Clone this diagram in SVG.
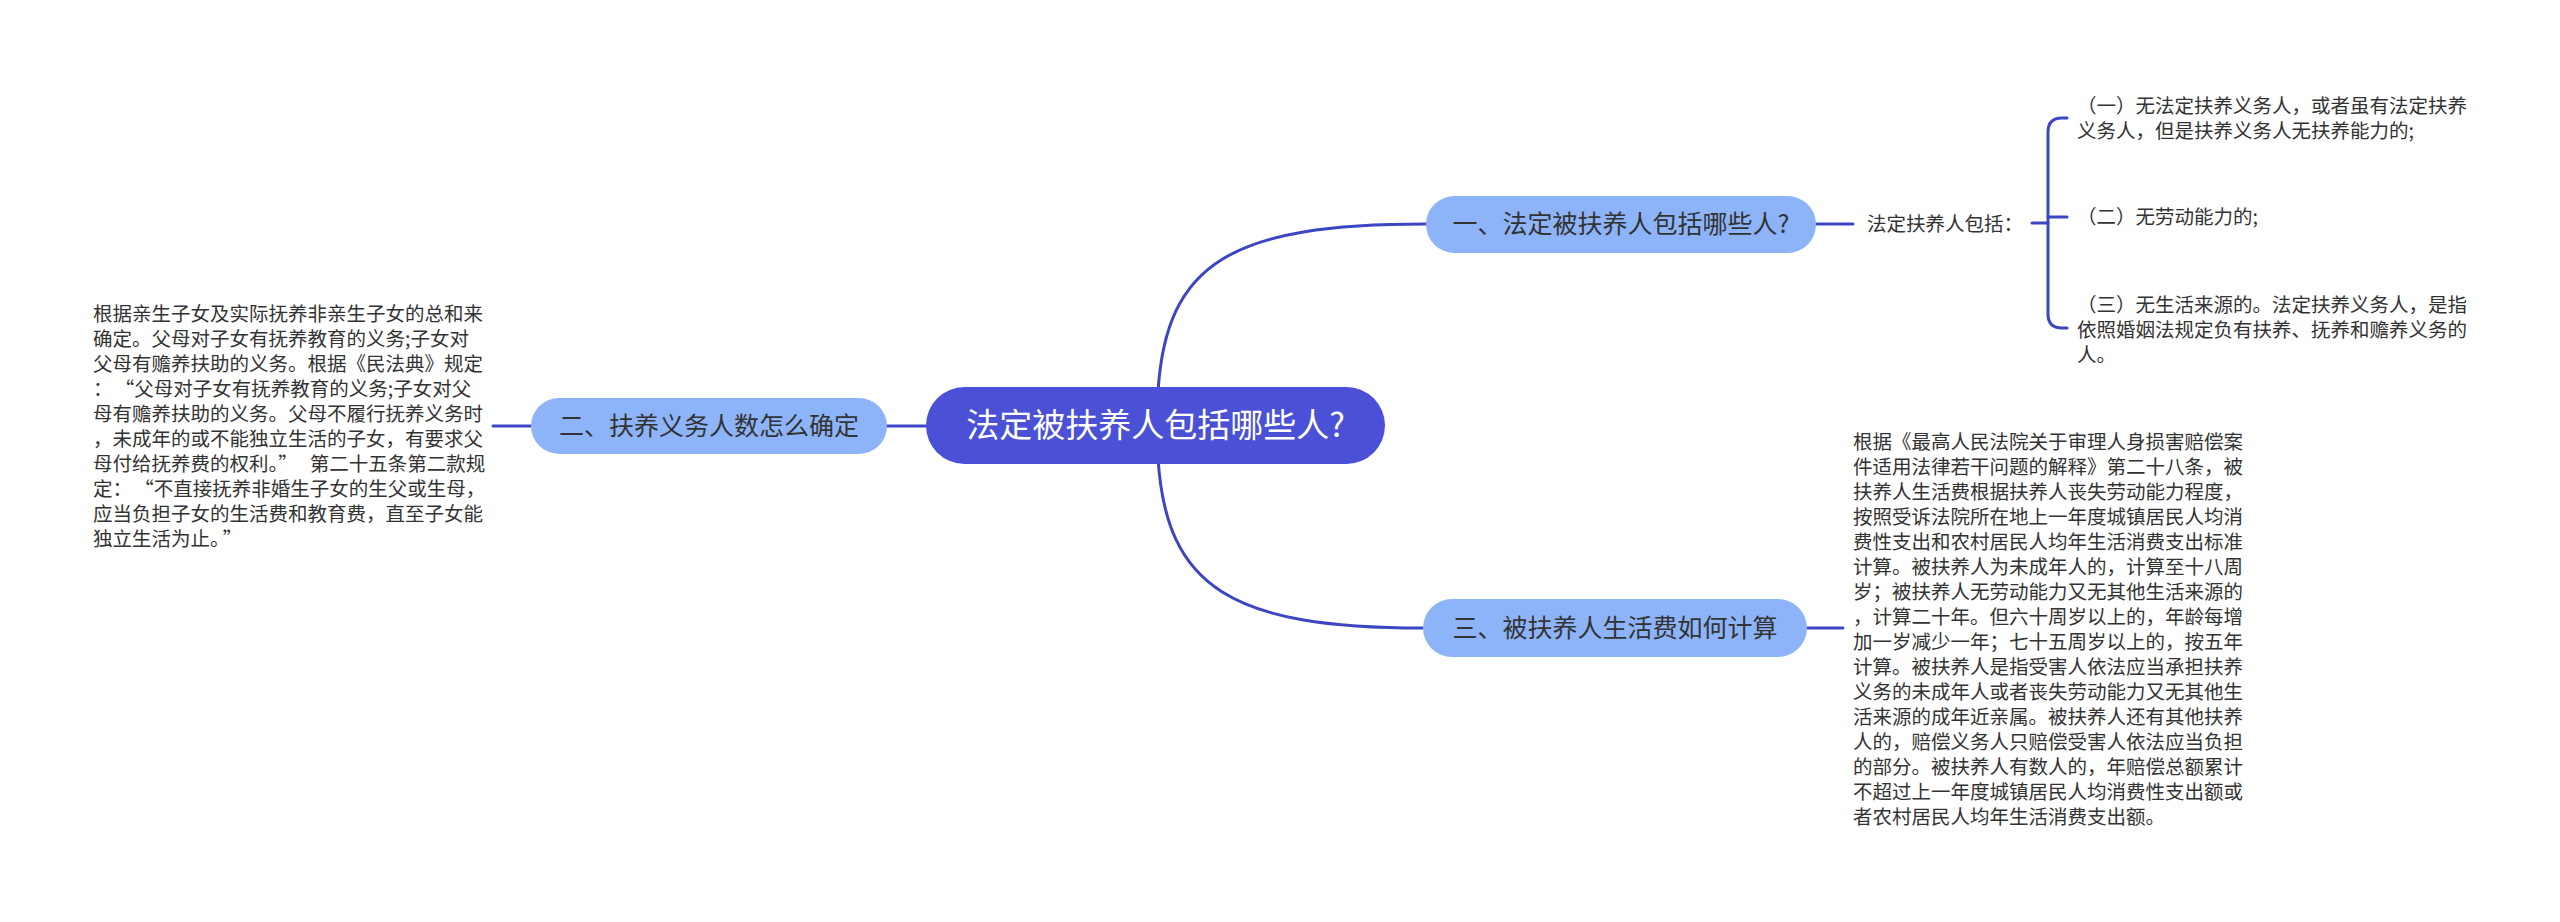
<svg xmlns="http://www.w3.org/2000/svg" width="2560" height="922" viewBox="0 0 2560 922">
<style>
.conn{fill:none;stroke:#3d46c2;stroke-width:3;stroke-linecap:round}
.t{font-family:"Noto Sans CJK SC","Noto Sans",sans-serif;fill:#333333}
.body{font-size:19.5px}
.sub{font-size:25px;text-anchor:middle}
.root{font-size:33px;text-anchor:middle;fill:#ffffff}
.lnode{fill:#8db4f8}
</style>
<rect width="2560" height="922" fill="#ffffff"/>
<g id="connectors">
<path class="conn" d="M1158,392 C1166,262 1232,224 1426,224"/>
<path class="conn" d="M1158,458 C1166,588 1232,628 1423,628"/>
<path class="conn" d="M926,426 L887,426"/>
<path class="conn" d="M531,426 L493,426"/>
<path class="conn" d="M1816,224 L1853,224"/>
<path class="conn" d="M2032,223 L2048,223"/>
<path class="conn" d="M2067,118 L2062,118 Q2048,118 2048,132 L2048,314 Q2048,328 2062,328 L2067,328"/>
<path class="conn" d="M2048,217 L2067,217"/>
<path class="conn" d="M1807,628 L1843,628"/>
</g>
<g id="root">
<rect x="926" y="387" width="459" height="77" rx="38.5" fill="#4a51d6"/>
<text class="t root" x="1155.5" y="437">法定被扶养人包括哪些人?</text>
</g>
<g id="node1">
<rect class="lnode" x="1426" y="196" width="390" height="57" rx="28.5"/>
<text class="t sub" x="1621" y="233">一、法定被扶养人包括哪些人?</text>
</g>
<g id="node2">
<rect class="lnode" x="531" y="398" width="356" height="56" rx="28"/>
<text class="t sub" x="709" y="435">二、扶养义务人数怎么确定</text>
</g>
<g id="node3">
<rect class="lnode" x="1423" y="599" width="384" height="58" rx="29"/>
<text class="t sub" x="1615" y="637">三、被扶养人生活费如何计算</text>
</g>
<g id="node1-label">
<text class="t body" x="1867" y="231">法定扶养人包括：</text>
</g>
<g id="item1">
<text class="t body" x="2077" y="113">（一）无法定扶养义务人，或者虽有法定扶养</text>
<text class="t body" x="2077" y="138">义务人，但是扶养义务人无扶养能力的;</text>
</g>
<g id="item2">
<text class="t body" x="2077" y="224">（二）无劳动能力的;</text>
</g>
<g id="item3">
<text class="t body" x="2077" y="312">（三）无生活来源的。法定扶养义务人，是指</text>
<text class="t body" x="2077" y="337">依照婚姻法规定负有扶养、抚养和赡养义务的</text>
<text class="t body" x="2077" y="362">人。</text>
</g>
<g id="node2-detail">
<text class="t body" x="93" y="321">根据亲生子女及实际抚养非亲生子女的总和来</text>
<text class="t body" x="93" y="346">确定。父母对子女有抚养教育的义务;子女对</text>
<text class="t body" x="93" y="371">父母有赡养扶助的义务。根据《民法典》规定</text>
<text class="t body" x="93" y="396">：<tspan dx="12">“</tspan>父母对子女有抚养教育的义务;子女对父</text>
<text class="t body" x="93" y="421">母有赡养扶助的义务。父母不履行抚养义务时</text>
<text class="t body" x="93" y="446">，未成年的或不能独立生活的子女，有要求父</text>
<text class="t body" x="93" y="471">母付给抚养费的权利。”<tspan dx="12">第二十五条第二款规</tspan></text>
<text class="t body" x="93" y="496">定：<tspan dx="12">“</tspan>不直接抚养非婚生子女的生父或生母，</text>
<text class="t body" x="93" y="521">应当负担子女的生活费和教育费，直至子女能</text>
<text class="t body" x="93" y="546">独立生活为止。<tspan dx="3">”</tspan></text>
</g>
<g id="node3-detail">
<text class="t body" x="1853" y="449">根据《最高人民法院关于审理人身损害赔偿案</text>
<text class="t body" x="1853" y="474">件适用法律若干问题的解释》第二十八条，被</text>
<text class="t body" x="1853" y="499">扶养人生活费根据扶养人丧失劳动能力程度，</text>
<text class="t body" x="1853" y="524">按照受诉法院所在地上一年度城镇居民人均消</text>
<text class="t body" x="1853" y="549">费性支出和农村居民人均年生活消费支出标准</text>
<text class="t body" x="1853" y="574">计算。被扶养人为未成年人的，计算至十八周</text>
<text class="t body" x="1853" y="599">岁；被扶养人无劳动能力又无其他生活来源的</text>
<text class="t body" x="1853" y="624">，计算二十年。但六十周岁以上的，年龄每增</text>
<text class="t body" x="1853" y="649">加一岁减少一年；七十五周岁以上的，按五年</text>
<text class="t body" x="1853" y="674">计算。被扶养人是指受害人依法应当承担扶养</text>
<text class="t body" x="1853" y="699">义务的未成年人或者丧失劳动能力又无其他生</text>
<text class="t body" x="1853" y="724">活来源的成年近亲属。被扶养人还有其他扶养</text>
<text class="t body" x="1853" y="749">人的，赔偿义务人只赔偿受害人依法应当负担</text>
<text class="t body" x="1853" y="774">的部分。被扶养人有数人的，年赔偿总额累计</text>
<text class="t body" x="1853" y="799">不超过上一年度城镇居民人均消费性支出额或</text>
<text class="t body" x="1853" y="824">者农村居民人均年生活消费支出额。</text>
</g>
</svg>
